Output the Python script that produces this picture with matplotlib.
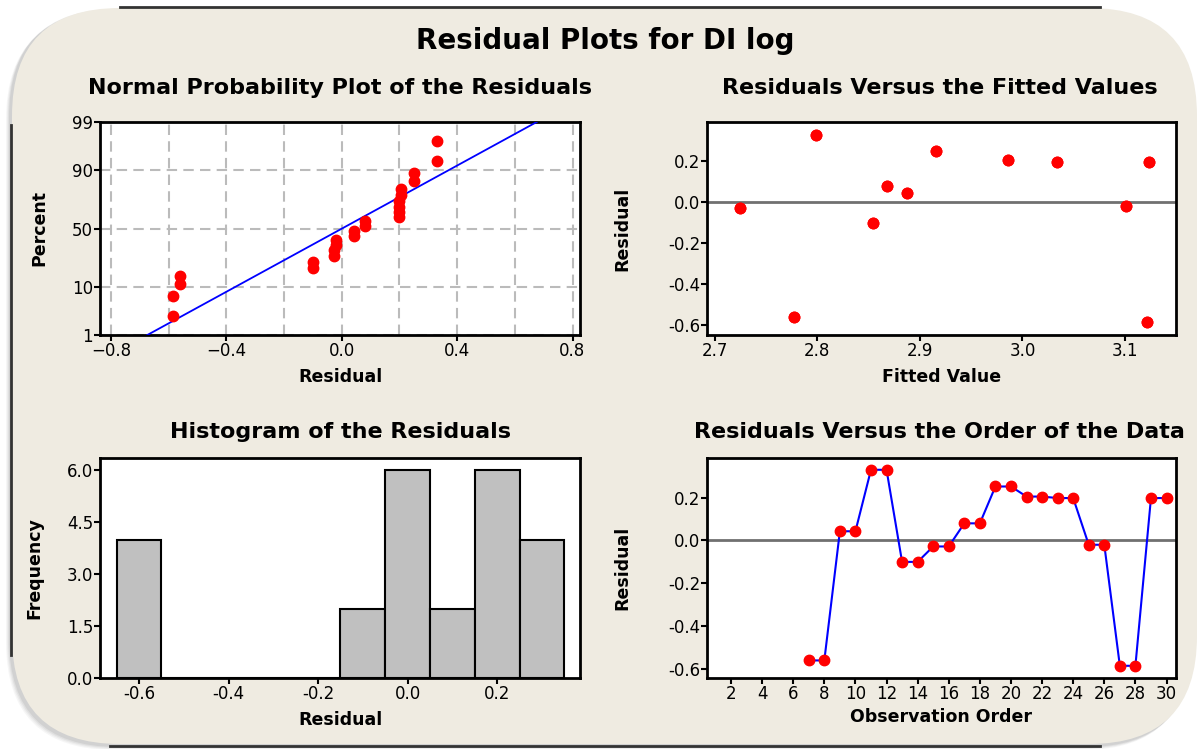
import numpy as np
import matplotlib
matplotlib.use("Agg")
import matplotlib.pyplot as plt
from matplotlib.patches import FancyBboxPatch
from statistics import NormalDist

# data: observation order, residuals and fitted values (pairs of obs share a value)
obs_order = list(range(7, 31))
resid_pairs = [-0.56, 0.043, 0.33, -0.10, -0.028, 0.08, 0.252, 0.205, 0.198, -0.02, -0.585, 0.198]
fitted_pairs = [2.777, 2.888, 2.799, 2.854, 2.725, 2.868, 2.916, 2.986, 3.034, 3.101, 3.121, 3.123]
residuals = np.repeat(resid_pairs, 2)
fitted = np.repeat(fitted_pairs, 2)

prob_ticks = [1, 10, 50, 90, 99]
hist_edges = np.linspace(-0.65, 0.35, 11)

W, H = 1197, 749
fig = plt.figure(figsize=(W / 100, H / 100), dpi=100)
fig.patch.set_facecolor("white")

# background frame (pixel coords)
bg = fig.add_axes([0, 0, 1, 1], zorder=-5)
bg.set_xlim(0, W)
bg.set_ylim(H, 0)
bg.axis("off")
for k, a in enumerate([0.05, 0.06, 0.08, 0.10]):
    off = 4 - k
    bg.add_patch(FancyBboxPatch((10 - off, 8 + off), 1185, 738, boxstyle="round,pad=0,rounding_size=108",
                                fc="#555555", ec="none", alpha=a))
bg.add_patch(FancyBboxPatch((12, 8), 1185, 736, boxstyle="round,pad=0,rounding_size=108",
                            fc="#EFEBE1", ec="none"))
bg.plot([120, 1100], [7, 7], color="#333333", lw=2)
bg.plot([110, 1100], [746, 746], color="#333333", lw=2)
bg.plot([11, 11], [125, 655], color="#333333", lw=2)

def px(l, t, r, b):
    return [l / W, 1 - b / H, (r - l) / W, (b - t) / H]

tick_fs = 12
title_fs = 16
lab_fs = 12.5

def style(ax):
    for s in ax.spines.values():
        s.set_linewidth(2)
    ax.tick_params(direction="out", length=4, width=1.5, labelsize=tick_fs, pad=1)
    ax.set_facecolor("white")

def subtitle(xc, yc, s):
    fig.text(xc / W, 1 - yc / H, s, ha="center", va="center", fontsize=title_fs, fontweight="bold")

fig.text(605 / W, 1 - 41 / H, "Residual Plots for DI log", ha="center", va="center",
         fontsize=20, fontweight="bold")

# normal probability plot
ax1 = fig.add_axes(px(100, 122, 580, 335))
style(ax1)
nd = NormalDist()
srt = np.sort(residuals)
n = len(srt)
pp = (np.arange(1, n + 1) - 0.3) / (n + 0.4)
zz = np.array([nd.inv_cdf(p) for p in pp])
zlo, zhi = nd.inv_cdf(0.01), nd.inv_cdf(0.99)
mu, sd = residuals.mean(), residuals.std(ddof=1)
zl = np.linspace(zlo, zhi, 50)
ax1.plot(mu + sd * zl, zl, color="#0000FF", lw=1.3, zorder=3)
ax1.plot(srt, zz, "o", color="#FF0000", ms=7.5, zorder=4)
ax1.set_xlim(-0.838, 0.826)
ax1.set_ylim(zlo, zhi)
ax1.set_yticks([nd.inv_cdf(p / 100) for p in prob_ticks])
ax1.set_yticklabels([str(p) for p in prob_ticks])
ax1.set_xticks([-0.8, -0.4, 0.0, 0.4, 0.8])
ax1.set_xticks(np.arange(-0.8, 0.81, 0.2), minor=True)
ax1.tick_params(axis="x", which="minor", length=0)
ax1.grid(True, which="both", axis="x", ls=(0, (5, 3)), color="#BBBBBB", lw=1.5)
ax1.grid(True, which="major", axis="y", ls=(0, (5, 3)), color="#BBBBBB", lw=1.5)
ax1.set_axisbelow(True)
subtitle(340, 88, "Normal Probability Plot of the Residuals")
ax1.set_xlabel("Residual", fontsize=lab_fs, fontweight="bold", labelpad=6)
ax1.set_ylabel("Percent", fontsize=lab_fs, fontweight="bold", labelpad=17)

# residuals vs fitted
ax2 = fig.add_axes(px(707, 122, 1176, 335))
style(ax2)
ax2.axhline(0, color="#707070", lw=2, zorder=2)
ax2.plot(fitted, residuals, "o", color="#FF0000", ms=7.5, zorder=3)
ax2.set_xlim(2.6926, 3.1497)
ax2.set_ylim(-0.649, 0.392)
ax2.set_xticks([2.7, 2.8, 2.9, 3.0, 3.1])
ax2.set_xticklabels(["2.7", "2.8", "2.9", "3.0", "3.1"])
ax2.set_yticks([-0.6, -0.4, -0.2, 0.0, 0.2])
ax2.set_yticklabels(["-0.6", "-0.4", "-0.2", "0.0", "0.2"])
subtitle(940, 88, "Residuals Versus the Fitted Values")
ax2.set_xlabel("Fitted Value", fontsize=lab_fs, fontweight="bold", labelpad=6)
ax2.set_ylabel("Residual", fontsize=lab_fs, fontweight="bold", labelpad=26)

# histogram
ax3 = fig.add_axes(px(100, 458, 580, 678))
style(ax3)
ax3.hist(residuals, bins=hist_edges, color="#C0C0C0", edgecolor="black", linewidth=1.5)
ax3.set_xlim(-0.687, 0.385)
ax3.set_ylim(0, 6.355)
ax3.set_xticks([-0.6, -0.4, -0.2, 0.0, 0.2])
ax3.set_xticklabels(["-0.6", "-0.4", "-0.2", "0.0", "0.2"])
ax3.set_yticks([0, 1.5, 3.0, 4.5, 6.0])
ax3.set_yticklabels(["0.0", "1.5", "3.0", "4.5", "6.0"])
subtitle(341, 432, "Histogram of the Residuals")
ax3.set_xlabel("Residual", fontsize=lab_fs, fontweight="bold", labelpad=6)
ax3.set_ylabel("Frequency", fontsize=lab_fs, fontweight="bold", labelpad=17)

# residuals vs order
ax4 = fig.add_axes(px(707, 458, 1176, 678))
style(ax4)
ax4.axhline(0, color="#707070", lw=2, zorder=2)
ax4.plot(obs_order, residuals, "-", color="#0000FF", lw=1.5, zorder=3)
ax4.plot(obs_order, residuals, "o", color="#FF0000", ms=7.5, zorder=4)
ax4.set_xlim(0.457, 30.61)
ax4.set_ylim(-0.642, 0.385)
ax4.set_xticks(range(2, 31, 2))
ax4.set_yticks([-0.6, -0.4, -0.2, 0.0, 0.2])
ax4.set_yticklabels(["-0.6", "-0.4", "-0.2", "0.0", "0.2"])
subtitle(939, 432, "Residuals Versus the Order of the Data")
ax4.set_xlabel("Observation Order", fontsize=lab_fs, fontweight="bold", labelpad=4)
ax4.set_ylabel("Residual", fontsize=lab_fs, fontweight="bold", labelpad=26)

fig.savefig("out.png", dpi=100)
